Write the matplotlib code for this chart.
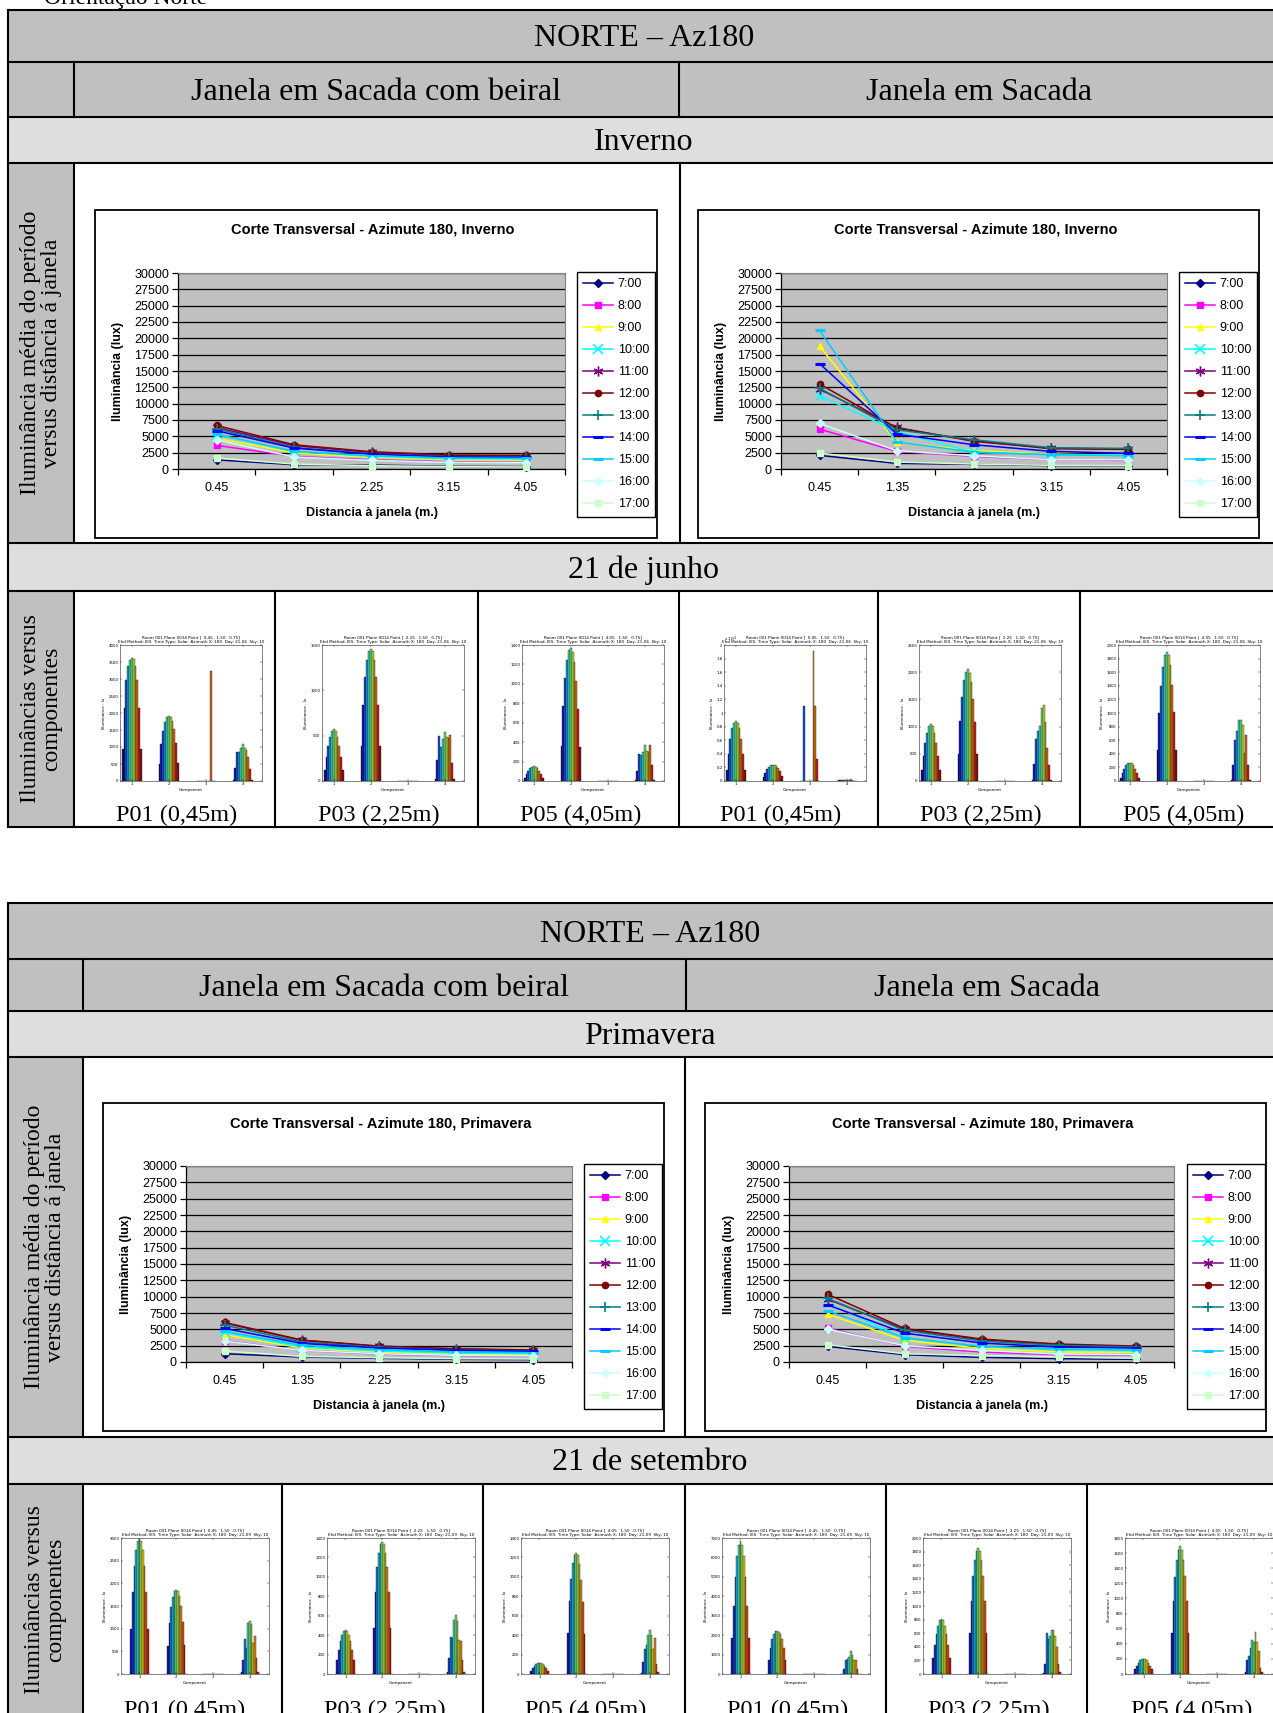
import numpy as np
import matplotlib
matplotlib.use("Agg")
import matplotlib.pyplot as plt
from matplotlib.patches import Rectangle
from matplotlib.ticker import MultipleLocator, FixedLocator, FuncFormatter, NullFormatter

W, H = 1273, 1713
SERIF = "Liberation Serif"
SANS = "Liberation Sans"

# ---- dados ----
distancias = ["0.45", "1.35", "2.25", "3.15", "4.05"]
horas = ["7:00", "8:00", "9:00", "10:00", "11:00", "12:00",
         "13:00", "14:00", "15:00", "16:00", "17:00"]

# iluminancia media (lux): uma linha por hora, colunas = distancias
inv_beiral = [[1400, 660, 610, 410, 360],
              [3610, 1930, 1420, 1120, 1020],
              [4730, 2440, 1780, 1420, 1370],
              [5240, 2700, 1930, 1580, 1530],
              [6360, 3560, 2540, 2030, 2030],
              [6660, 3710, 2640, 2140, 2080],
              [6150, 3300, 2290, 1880, 1830],
              [5850, 3200, 2290, 1830, 1780],
              [5340, 2700, 2030, 1680, 1630],
              [4470, 1830, 1320, 1020, 970],
              [1680, 760, 510, 360, 310]]
inv_sacada = [[2080, 860, 710, 510, 460],
              [6100, 2700, 1930, 1420, 1320],
              [18800, 4070, 2800, 2290, 2080],
              [11240, 5750, 2540, 2190, 2080],
              [12200, 6360, 4220, 3200, 3050],
              [13020, 6250, 4320, 3100, 3000],
              [12360, 6000, 4470, 3250, 3150],
              [16120, 5340, 3710, 2700, 2390],
              [21200, 4120, 2590, 2190, 2030],
              [6970, 2800, 2030, 1420, 1420],
              [2440, 1070, 760, 560, 510]]
pri_beiral = [[1270, 760, 560, 410, 360],
              [3250, 1780, 1220, 970, 860],
              [4170, 2140, 1530, 1220, 1120],
              [4530, 2290, 1680, 1370, 1270],
              [5950, 3310, 2390, 1980, 1780],
              [6050, 3360, 2440, 2030, 1830],
              [5640, 3050, 2240, 1830, 1680],
              [5140, 2850, 2140, 1780, 1630],
              [4680, 2540, 1880, 1530, 1420],
              [3200, 1780, 1270, 1020, 920],
              [1680, 860, 660, 510, 460]]
pri_sacada = [[2390, 1120, 710, 510, 410],
              [5190, 2390, 1530, 1120, 1020],
              [7320, 3310, 2080, 1530, 1470],
              [9000, 3660, 2390, 1880, 1730],
              [9610, 5030, 3410, 2640, 2340],
              [10370, 5140, 3510, 2750, 2440],
              [9760, 4830, 3200, 2540, 2290],
              [8750, 4420, 2900, 2290, 2140],
              [7830, 3710, 2390, 1980, 1880],
              [5030, 2490, 1780, 1220, 1120],
              [2640, 1270, 970, 760, 560]]

# componentes (linhas = componente 1..4, colunas = horas)
z11 = [0] * 11
z13 = [0] * 13
jun_beiral_p01 = [[930, 2150, 2980, 3370, 3570, 3620, 3580, 3370, 2980, 2150, 930],
                  [510, 1080, 1480, 1740, 1870, 1910, 1870, 1760, 1530, 1120, 530],
                  [0, 0, 0, 0, 0, 0, 0, 0, 3240, 0, 0],
                  [30, 380, 850, 840, 960, 1080, 960, 910, 700, 360, 40]]
jun_beiral_p03 = [[120, 270, 390, 490, 550, 570, 550, 490, 390, 270, 120],
                  [390, 840, 1150, 1330, 1430, 1460, 1430, 1330, 1150, 840, 390],
                  z11,
                  [20, 230, 500, 370, 460, 540, 480, 470, 510, 200, 20]]
jun_beiral_p05 = [[30, 70, 100, 130, 145, 150, 145, 130, 100, 70, 30],
                  [360, 770, 1060, 1250, 1350, 1370, 1330, 1220, 1030, 740, 350],
                  z11,
                  [10, 100, 280, 270, 300, 370, 310, 300, 370, 160, 10]]
jun_sacada_p01 = [[1600, 4000, 6200, 7800, 8600, 8800, 8600, 7800, 6200, 4000, 1600],
                  [600, 1200, 1800, 2100, 2300, 2400, 2300, 2200, 1900, 1400, 700],
                  [0, 0, 11000, 0, 0, 0, 0, 19100, 11000, 3200, 0],
                  [60, 130, 160, 170, 190, 160, 150, 230, 170, 70, 10]]
jun_sacada_p03 = [[200, 460, 690, 880, 1010, 1050, 1010, 880, 690, 460, 200],
                  [500, 1100, 1550, 1850, 2000, 2050, 1980, 1820, 1510, 1090, 500],
                  z11,
                  [20, 320, 780, 910, 1020, 1350, 1400, 1090, 600, 290, 20]]
jun_sacada_p05 = [[50, 120, 180, 230, 260, 270, 260, 230, 180, 120, 50],
                  [450, 1000, 1400, 1680, 1850, 1900, 1850, 1700, 1410, 1010, 450],
                  z11,
                  [10, 230, 610, 730, 890, 890, 820, 410, 680, 240, 10]]
set_beiral_p01 = [[0, 990, 1810, 2390, 2740, 2930, 2970, 2930, 2740, 2390, 1810, 990, 0],
                  [0, 620, 1120, 1480, 1700, 1820, 1850, 1820, 1710, 1510, 1140, 640, 0],
                  z13,
                  [0, 40, 300, 780, 570, 1120, 1170, 1100, 680, 830, 350, 50, 0]]
set_beiral_p03 = [[0, 140, 250, 340, 400, 440, 450, 440, 400, 340, 250, 140, 0],
                  [0, 470, 840, 1100, 1250, 1340, 1360, 1340, 1250, 1100, 840, 470, 0],
                  z13,
                  [0, 20, 160, 380, 370, 560, 610, 550, 350, 340, 140, 20, 0]]
set_beiral_p05 = [[0, 35, 65, 85, 100, 110, 115, 110, 100, 85, 65, 35, 0],
                  [0, 420, 750, 980, 1140, 1220, 1250, 1220, 1130, 970, 740, 410, 0],
                  z13,
                  [0, 10, 120, 260, 300, 400, 450, 400, 260, 370, 100, 20, 0]]
set_sacada_p01 = [[0, 1850, 3520, 4980, 6050, 6660, 6830, 6660, 6050, 4980, 3520, 1850, 0],
                  [0, 730, 1350, 1790, 2050, 2200, 2230, 2180, 2050, 1780, 1360, 740, 0],
                  z13,
                  [0, 20, 260, 700, 770, 890, 1190, 960, 740, 700, 250, 20, 0]]
set_sacada_p03 = [[0, 240, 430, 590, 710, 790, 810, 790, 710, 590, 430, 240, 0],
                  [0, 600, 1080, 1440, 1670, 1810, 1860, 1810, 1670, 1440, 1080, 600, 0],
                  z13,
                  [0, 20, 150, 600, 520, 560, 640, 640, 560, 400, 150, 30, 0]]
set_sacada_p05 = [[0, 60, 110, 150, 180, 200, 205, 200, 180, 150, 110, 60, 0],
                  [0, 540, 960, 1290, 1510, 1640, 1690, 1640, 1510, 1300, 970, 540, 0],
                  z13,
                  [0, 20, 190, 240, 350, 450, 430, 550, 430, 300, 80, 20, 0]]

pontos = ["0.45", "2.25", "4.05"]
legendas_pontos = ["P01 (0,45m)", "P03 (2,25m)", "P05 (4,05m)"]

estilos = [("#000080", "D"), ("#FF00FF", "s"), ("#FFFF00", "^"), ("#00FFFF", "x"),
           ("#800080", (6, 2, 0)), ("#800000", "o"), ("#008080", "+"), ("#0000FF", "_"),
           ("#00CCFF", "_"), ("#CCFFFF", "D"), ("#CCFFCC", "s")]

fig = plt.figure(figsize=(W / 100, H / 100), dpi=100)
tab = fig.add_axes([0, 0, 1, 1])
tab.set_xlim(0, W)
tab.set_ylim(H, 0)
tab.axis("off")


def px(x0, y0, x1, y1):
    return [x0 / W, 1 - y1 / H, (x1 - x0) / W, (y1 - y0) / H]


def fundo(x0, y0, x1, y1, cor):
    tab.add_patch(Rectangle((x0, y0), x1 - x0, y1 - y0, facecolor=cor, edgecolor="none", zorder=0))


def hlinha(y, x0, x1):
    tab.plot([x0, x1], [y, y], color="black", lw=1.5, zorder=2, solid_capstyle="projecting")


def vlinha(x, y0, y1):
    tab.plot([x, x], [y0, y1], color="black", lw=1.5, zorder=2, solid_capstyle="projecting")


def texto(x, y, s, size=23, **kw):
    tab.text(x, y, s, ha="center", va="center", fontsize=size, family=SERIF, zorder=3, **kw)


def grafico_linhas(box, area, leg, dados, estacao):
    bx0, by0, bx1, by1 = box
    tab.add_patch(Rectangle((bx0, by0), bx1 - bx0, by1 - by0, facecolor="white",
                            edgecolor="black", lw=1.3, zorder=3))
    tab.text((bx0 + bx1) / 2 - 3, by0 + 20, f"Corte Transversal - Azimute 180, {estacao}",
             ha="center", va="center", fontsize=10.5, fontweight="bold", family=SANS, zorder=4)
    ax = fig.add_axes(px(*area))
    ax.set_facecolor("#C0C0C0")
    xs = np.arange(len(distancias)) + 0.5
    linhas = []
    for i, h in enumerate(horas):
        cor, mk = estilos[i]
        if mk in ("_", "x", "+"):
            ms, mew = 6.5, (2.2 if mk == "_" else 1.2)
        elif isinstance(mk, tuple):
            ms, mew = 7, 1.0
        else:
            ms, mew = 4.5, 1.0
        ln, = ax.plot(xs, dados[i], color=cor, marker=mk, ms=ms, mew=mew,
                      mec=cor, mfc=cor, lw=1.1, label=h, clip_on=False, zorder=3)
        linhas.append(ln)
    ax.set_xlim(0, 5)
    ax.set_ylim(0, 30000)
    ax.yaxis.set_major_locator(MultipleLocator(2500))
    ax.grid(axis="y", color="black", lw=0.9, zorder=1)
    ax.set_axisbelow(True)
    ax.xaxis.set_major_locator(FixedLocator(np.arange(6)))
    ax.xaxis.set_major_formatter(NullFormatter())
    ax.xaxis.set_minor_locator(FixedLocator(xs))
    ax.set_xticklabels(distancias, minor=True)
    ax.tick_params(axis="x", which="major", length=4, width=0.9, direction="out")
    ax.tick_params(axis="x", which="minor", length=0, pad=9.5, labelsize=9)
    ax.tick_params(axis="y", length=4, width=0.9, direction="out", pad=2.5, labelsize=9)
    for t in ax.get_xticklabels(minor=True) + ax.get_yticklabels():
        t.set_family(SANS)
    for s in ("left", "bottom"):
        ax.spines[s].set_color("black")
        ax.spines[s].set_linewidth(0.9)
    for s in ("top", "right"):
        ax.spines[s].set_color("#808080")
        ax.spines[s].set_linewidth(0.8)
    ax.set_ylabel("Iluminância (lux)", fontsize=9, fontweight="bold", family=SANS, labelpad=7)
    ax.set_xlabel("Distancia à janela (m.)", fontsize=9, fontweight="bold", family=SANS, labelpad=9)
    lg = fig.legend(handles=linhas, loc="upper left", bbox_to_anchor=(leg[0] / W, 1 - leg[1] / H),
                    borderaxespad=0, numpoints=1, handlelength=2.4, handletextpad=0.35,
                    labelspacing=0.8, borderpad=0.5, fancybox=False, framealpha=1,
                    prop={"family": SANS, "size": 9})
    lg.get_frame().set_edgecolor("black")
    lg.get_frame().set_linewidth(1.0)


def cores_barras(n):
    base = plt.cm.jet(np.linspace(0, 1, n))[:, :3]
    return base * 0.75 + 0.1


def grafico_barras(x0, y0, larg, dados, ymax, ystep, ponto, dia, escala=False):
    ax = fig.add_axes(px(x0, y0, x0 + larg, y0 + 136))
    vals = np.array(dados, dtype=float)
    n = vals.shape[1]
    w = 0.05 if n == 11 else 0.045
    cores = cores_barras(n)
    comp = np.arange(1, 5)
    for k in range(n):
        ax.bar(comp + (k - (n - 1) / 2) * w, vals[:, k], w, color=cores[k],
               edgecolor="black", linewidth=0.25)
    ax.set_xlim(0.68 if n == 11 else 0.5, 4.52)
    ax.set_ylim(0, ymax)
    ax.set_xticks(comp)
    ax.yaxis.set_major_locator(MultipleLocator(ystep))
    if escala:
        ax.yaxis.set_major_formatter(FuncFormatter(lambda v, p: f"{v / 1e4:g}"))
        ax.text(0, 1.005, r"x 10$^4$", transform=ax.transAxes, fontsize=3, va="bottom")
    ax.tick_params(direction="in", top=True, right=True, length=1.5, width=0.3,
                   labelsize=2.8, pad=1)
    for s in ax.spines.values():
        s.set_linewidth(0.5)
        s.set_color("#505050")
    ax.set_title(f"Room 001 Plane 0014 Point [  {ponto}   1.50   0.75]\n"
                 f"Ehd Method: IES  Time Type: Solar  Azimuth X: 180  Day: {dia}  Sky: 10",
                 fontsize=3, pad=1.5, linespacing=1.1)
    ax.set_xlabel("Component", fontsize=3, labelpad=1.5)
    ax.set_ylabel("Illuminance - lx", fontsize=3, labelpad=2)


# ---- texto de topo ----
tab.text(44, 4, "Orientação Norte", fontsize=17, family=SERIF, va="baseline", ha="left")

# ---- tabela 1 (Inverno) ----
R = 1284
y1 = [10, 62, 117, 163, 543, 591, 827]
fundo(8, 10, R, 117, "#C0C0C0")
fundo(8, 117, R, 163, "#DEDEDE")
fundo(8, 163, 74, 543, "#C0C0C0")
fundo(8, 543, R, 591, "#DEDEDE")
fundo(8, 591, 74, 827, "#C0C0C0")
for y in y1:
    hlinha(y, 8, R)
vlinha(8, 10, 827)
for a, b in [(62, 117), (163, 543), (591, 827)]:
    vlinha(74, a, b)
vlinha(679, 62, 117)
vlinha(680, 163, 543)
cel1 = [74, 275, 478, 679, 878, 1080, R]
for x in cel1[1:-1]:
    vlinha(x, 591, 827)
texto(644, 39, "NORTE – Az180")
texto(376, 93, "Janela em Sacada com beiral")
texto(979, 93, "Janela em Sacada")
texto(644, 143, "Inverno")
texto(644, 570, "21 de junho")
texto(41, 353, "Iluminância média do período\nversus distância á janela", size=17,
      rotation=90, linespacing=1.05)
texto(41, 709, "Iluminâncias versus\ncomponentes", size=17, rotation=90, linespacing=1.05)

grafico_linhas((95, 210, 657, 538), (178, 273, 565, 469), (577, 272), inv_beiral, "Inverno")
grafico_linhas((698, 210, 1259, 538), (781, 273, 1167, 469), (1179, 272), inv_sacada, "Inverno")

barras_jun = [jun_beiral_p01, jun_beiral_p03, jun_beiral_p05,
              jun_sacada_p01, jun_sacada_p03, jun_sacada_p05]
lim_jun = [(4000, 500), (1500, 500), (1400, 200), (20000, 2000), (2500, 500), (2000, 200)]
x_jun = [120, 322, 522, 724, 919, 1118]
for i, d in enumerate(barras_jun):
    grafico_barras(x_jun[i], 645, 142, d, lim_jun[i][0], lim_jun[i][1], pontos[i % 3], "21-06",
                   escala=(i == 3))
    tab.text((cel1[i] + cel1[i + 1]) / 2 + 2, 821, legendas_pontos[i % 3], fontsize=17.5,
             family=SERIF, ha="center", va="baseline")

# ---- tabela 2 (Primavera) ----
R2 = 1292
fundo(8, 903, R2, 1011, "#C0C0C0")
fundo(8, 1011, R2, 1057, "#DEDEDE")
fundo(8, 1057, 83, 1437, "#C0C0C0")
fundo(8, 1437, R2, 1484, "#DEDEDE")
fundo(8, 1484, 83, 1720, "#C0C0C0")
for y in [903, 959, 1011, 1057, 1437, 1484]:
    hlinha(y, 8, R2)
vlinha(8, 903, 1720)
for a, b in [(959, 1011), (1057, 1437), (1484, 1720)]:
    vlinha(83, a, b)
vlinha(686, 959, 1011)
vlinha(685, 1057, 1437)
cel2 = [83, 282, 483, 685, 886, 1087, R2]
for x in cel2[1:-1]:
    vlinha(x, 1484, 1720)
texto(650, 934, "NORTE – Az180")
texto(384, 988, "Janela em Sacada com beiral")
texto(987, 988, "Janela em Sacada")
texto(650, 1037, "Primavera")
texto(650, 1463, "21 de setembro")
texto(45, 1247, "Iluminância média do período\nversus distância á janela", size=17,
      rotation=90, linespacing=1.05)
texto(45, 1600, "Iluminâncias versus\ncomponentes", size=17, rotation=90, linespacing=1.05)

grafico_linhas((103, 1103, 664, 1431), (186, 1166, 572, 1362), (584, 1164), pri_beiral, "Primavera")
grafico_linhas((705, 1103, 1266, 1431), (789, 1166, 1174, 1362), (1187, 1164), pri_sacada, "Primavera")

barras_set = [set_beiral_p01, set_beiral_p03, set_beiral_p05,
              set_sacada_p01, set_sacada_p03, set_sacada_p05]
lim_set = [(3000, 500), (1400, 200), (1400, 200), (7000, 1000), (2000, 200), (1800, 200)]
x_set = [121, 327, 521, 722, 923, 1125]
for i, d in enumerate(barras_set):
    grafico_barras(x_set[i], 1538, 148, d, lim_set[i][0], lim_set[i][1], pontos[i % 3], "21-09")
    tab.text((cel2[i] + cel2[i + 1]) / 2 + 2, 1716, legendas_pontos[i % 3], fontsize=17.5,
             family=SERIF, ha="center", va="baseline")

fig.savefig("out.png", dpi=100)
